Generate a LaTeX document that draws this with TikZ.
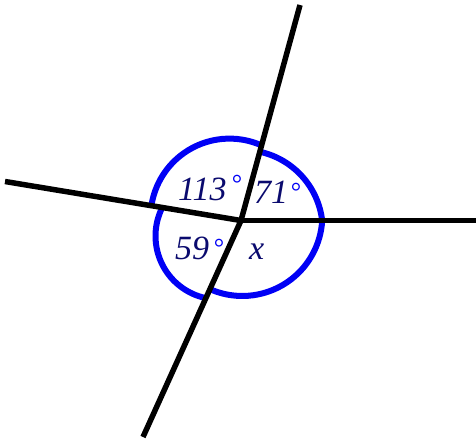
\documentclass[tikz,border=0pt]{standalone}
\usepackage{fontspec}
\setmainfont{Liberation Serif}
\definecolor{txtnavy}{RGB}{10,10,110}
\definecolor{arcblue}{RGB}{0,0,245}
\begin{document}
\begin{tikzpicture}[x=1pt,y=1pt,
  ray/.style={line width=5.5pt,black},
  anglearc/.style={line width=6pt,arcblue},
  lbl/.style={anchor=base west,inner sep=0pt,text=txtnavy,font=\fontsize{34}{34}\selectfont\itshape},
  deg/.style={anchor=center,inner sep=0pt,text=arcblue,font=\fontsize{26}{26}\selectfont}]
\useasboundingbox (0,0) rectangle (476,-441);
\coordinate (V) at (241,-220.5);
\coordinate (U) at (300,-5);
\coordinate (R) at (476,-220.5);
\coordinate (L) at (5,-181.5);
\coordinate (D) at (143,-437);
% arcs
\coordinate (C1) at (242.7,-229.9);
\coordinate (C2) at (229.5,-217.6);
\coordinate (C3) at (219,-236);
\coordinate (C4) at (242.3,-216);
\draw[anglearc] ([shift={(6.4:80)}]C1) arc (6.4:77.5:80);
\draw[anglearc] ([shift={(65.5:79)}]C2) arc (65.5:170.5:79);
\draw[anglearc] ([shift={(152.5:63.5)}]C3) arc (152.5:256.4:63.5);
\draw[anglearc] ([shift={(247.7:80)}]C4) arc (247.7:356.6:80);
% rays
\draw[ray] (V) -- (U);
\draw[ray] (V) -- (R);
\draw[ray] (V) -- (L);
\draw[ray] (V) -- (D);
% labels
\node[lbl] (a113) at (178,-200) {113};
\node[deg] (d113) at (237,-184) {°};
\node[lbl] (a71) at (254,-203) {71};
\node[deg] (d71) at (296,-192) {°};
\node[lbl] (a59) at (175,-259) {59};
\node[deg] (d59) at (219,-248) {°};
\node[lbl] (ax) at (249,-259) {x};
\end{tikzpicture}
\end{document}
